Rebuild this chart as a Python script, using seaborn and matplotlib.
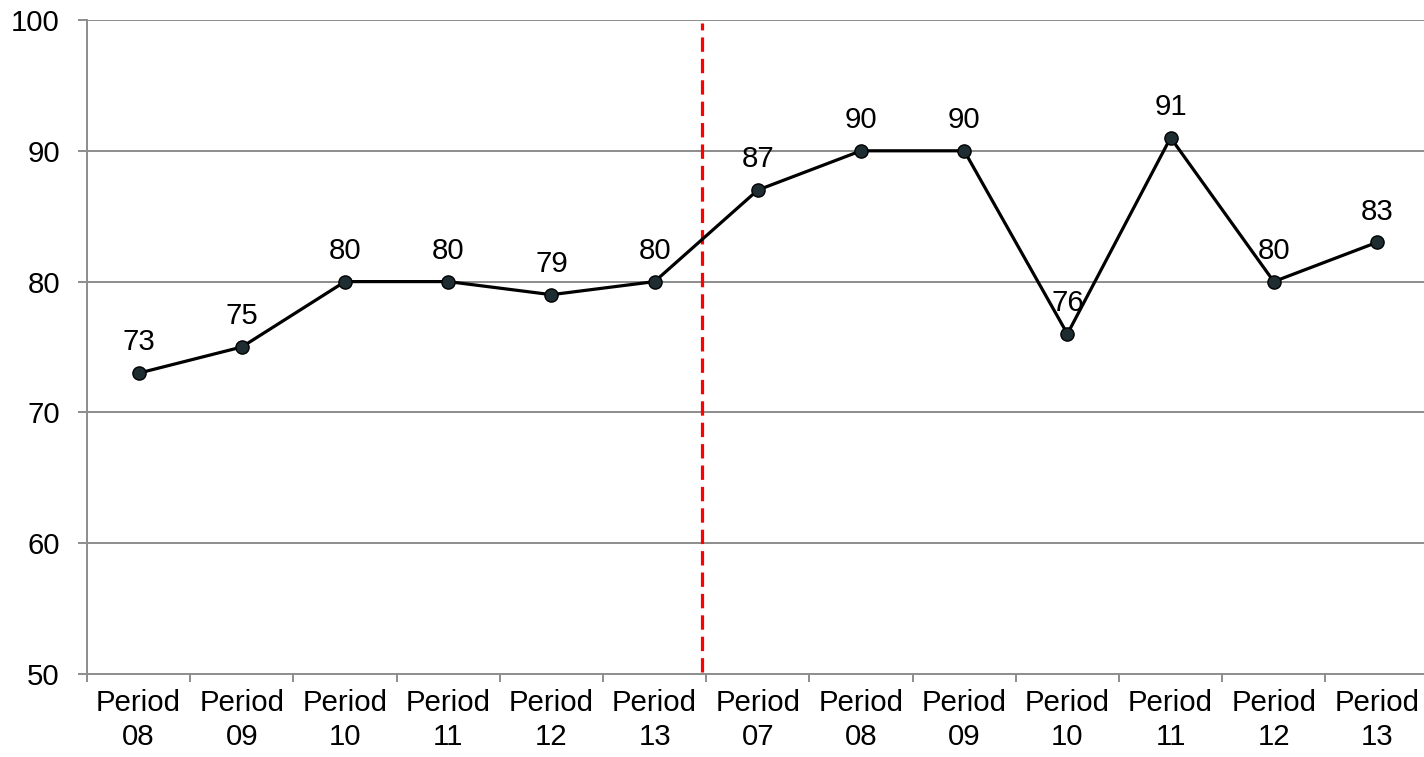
import matplotlib
matplotlib.use("Agg")
import matplotlib.pyplot as plt
import seaborn as sns
import pandas as pd
import numpy as np
from matplotlib.ticker import FixedLocator, NullFormatter

categories = ["Period\n08", "Period\n09", "Period\n10", "Period\n11", "Period\n12", "Period\n13",
              "Period\n07", "Period\n08", "Period\n09", "Period\n10", "Period\n11", "Period\n12", "Period\n13"]
values = [73, 75, 80, 80, 79, 80, 87, 90, 90, 76, 91, 80, 83]
y_ticks = [50, 60, 70, 80, 90, 100]
divider_pos = 5.46

sns.set_theme(style="white")
plt.rcParams['font.family'] = ['Liberation Sans', 'DejaVu Sans']

df = pd.DataFrame({"idx": np.arange(len(values)), "value": values})

fig = plt.figure(figsize=(14.24, 7.57), dpi=100)
ax = fig.add_axes([87/1424, 1-674/757, 1341.6/1424, 654/757])

grid_c = "#8c8c8c"
fs = 21.2
for yv in y_ticks[1:]:
    ax.axhline(yv, color=grid_c, lw=1.4, zorder=0)

sns.lineplot(data=df, x="idx", y="value", ax=ax, color="black", lw=2.3,
             marker="o", markersize=9.5, markerfacecolor="#1e2d32",
             markeredgecolor="black", markeredgewidth=1.0, zorder=3)

for i, v in zip(df["idx"], df["value"]):
    ax.annotate(str(v), (i, v), xytext=(0, 12), textcoords="offset points",
                ha="center", va="bottom", fontsize=fs, color="black", zorder=4)

ax.axvline(divider_pos, ymin=0.003, ymax=0.996, color="#ff0000", lw=2.3,
           ls=(0, (4.5, 2.2)), zorder=2)

ax.set_xlim(-0.5, len(values) - 0.5)
ax.set_ylim(50, 100)
ax.set_yticks(y_ticks)
ax.set_yticklabels([str(t) for t in y_ticks])

ax.xaxis.set_major_locator(FixedLocator(np.arange(-0.5, len(values), 1.0)))
ax.xaxis.set_major_formatter(NullFormatter())
ax.xaxis.set_minor_locator(FixedLocator(np.arange(len(values))))
ax.set_xticklabels(categories, minor=True, linespacing=1.25)
ax.tick_params(axis="x", which="major", direction="out", length=6, width=1.4,
               color=grid_c, bottom=True)
ax.tick_params(axis="x", which="minor", length=0, pad=11, labelsize=fs,
               labelcolor="black", bottom=True)
ax.tick_params(axis="y", direction="out", length=6.5, width=1.4, color=grid_c,
               pad=13, labelsize=fs, labelcolor="black", left=True)

ax.set_xlabel("")
ax.set_ylabel("")
for s in ["top", "right"]:
    ax.spines[s].set_visible(False)
for s in ["left", "bottom"]:
    ax.spines[s].set_color(grid_c)
    ax.spines[s].set_linewidth(1.4)

fig.savefig("out.png", dpi=100)
